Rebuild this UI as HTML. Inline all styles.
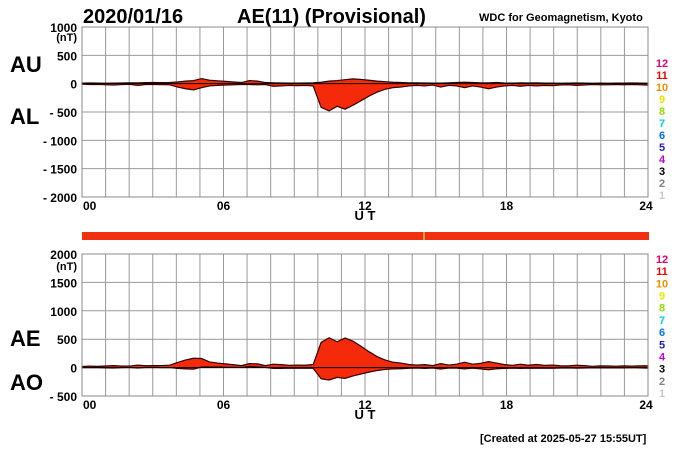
<!DOCTYPE html>
<html><head><meta charset="utf-8"><style>
body{margin:0;background:#fff;}
svg{display:block;font-family:"Liberation Sans",Arial,sans-serif;font-weight:bold;}
</style></head><body>
<svg id="chart" width="700" height="450">
<text x="83" y="23" font-size="20">2020/01/16</text>
<text x="237" y="23" font-size="20">AE(11) (Provisional)</text>
<text x="479" y="21" font-size="11">WDC for Geomagnetism, Kyoto</text>
<text x="10" y="72" font-size="22">AU</text>
<text x="10" y="124" font-size="22">AL</text>
<text x="10" y="346" font-size="22">AE</text>
<text x="10" y="390" font-size="22">AO</text>
<rect x="82" y="232" width="567" height="8" fill="#f03010"/>
<rect x="423" y="232" width="2" height="8" fill="#f0a040"/>
<text x="480" y="442" font-size="11">[Created at 2025-05-27 15:55UT]</text>
<g id="g"></g>
</svg>
<script>
const hourTicks=["00","06","12","18","24"];
const topTicks=[1000,500,0,-500,-1000,-1500,-2000];
const botTicks=[2000,1500,1000,500,0,-500];
const au=[10,12,10,8,10,12,15,15,18,20,18,22,30,45,55,90,60,50,40,30,20,55,45,20,15,12,10,10,12,15,25,45,55,70,85,75,60,45,35,25,20,15,15,12,10,10,15,20,25,20,15,15,20,12,10,15,12,15,10,10,8,10,12,10,8,10,8,10,10,12,10,8];
const al=[-10,-15,-12,-20,-25,-15,-12,-30,-15,-15,-18,-20,-60,-90,-110,-70,-40,-30,-25,-20,-15,-15,-20,-15,-45,-40,-30,-35,-30,-40,-420,-480,-400,-450,-380,-300,-220,-150,-100,-70,-60,-40,-30,-40,-25,-60,-30,-40,-70,-40,-60,-90,-60,-40,-30,-45,-30,-40,-30,-35,-25,-20,-30,-25,-15,-20,-20,-15,-20,-15,-20,-25];
const levels=["12","11","10","9","8","7","6","5","4","3","2","1"];
const levelColors=["#e8006a","#f00000","#f09000","#e8e800","#90e000","#00d0e0","#0070ff","#2020c0","#c000e0","#000","#808080","#c8c8c8"];
const NS="http://www.w3.org/2000/svg";
const g=document.getElementById('g');
function mk(t,a,txt){const e=document.createElementNS(NS,t);for(const k in a)e.setAttribute(k,a[k]);if(txt!==undefined)e.textContent=txt;g.appendChild(e);return e;}
const X0=82,X1=648;
const xs=h=>X0+(X1-X0)*h/24;
function panel(top,bot,vmax,vmin,ticks,name,series,unitY){
  const ys=v=>top+(vmax-v)*(bot-top)/(vmax-vmin);
  for(let h=0;h<=24;h++){const l=mk('line',{x1:xs(h),x2:xs(h),y1:top,y2:bot,stroke:'#999','stroke-width':1});
    
    }
  for(let v=vmax;v>=vmin;v-=500){const l=mk('line',{x1:X0,x2:X1,y1:ys(v),y2:ys(v),stroke:'#999','stroke-width':1});
    
    }
  ticks.forEach(v=>{const t=mk('text',{x:77,y:ys(v)+5,'font-size':12,'text-anchor':'end'},v<0?'- '+(-v):String(v));
    
    });
  const u=mk('text',{x:77,y:unitY,'font-size':11,'text-anchor':'end'},'(nT)');
  
  
  hourTicks.forEach((s,i)=>{const t=mk('text',{x:xs(i*6)+(i==0?1:i==4?-2:0),y:bot+13,'font-size':12,'text-anchor':i==0?'start':'middle'},s);
    
    });
  const ut=mk('text',{x:365,y:bot+23,'font-size':13,'text-anchor':'middle'},'U T');
  
  
  const [hi,lo]=series;const n=hi.length;
  let pts=[];for(let i=0;i<n;i++)pts.push(xs(i*24/(n-1))+','+ys(hi[i]));
  for(let i=n-1;i>=0;i--)pts.push(xs(i*24/(n-1))+','+ys(lo[i]));
  const p=mk('polygon',{points:pts.join(' '),fill:'#f52a0a',stroke:'#300','stroke-width':1.2});
  
  
  const z=mk('line',{x1:X0,x2:X1,y1:ys(0),y2:ys(0),stroke:'#000','stroke-width':1});
  
  
  const r=mk('rect',{x:X0,y:top,width:X1-X0,height:bot-top,fill:'none',stroke:'#888'});
  
  
}
panel(27,197,1000,-2000,topTicks,'au-al-panel',[au,al],41);
const ae=au.map((v,i)=>v-al[i]);
const ao=au.map((v,i)=>(v+al[i])/2);
panel(254,396,2000,-500,botTicks,'ae-ao-panel',[ae,ao],270);
[[62,194],[258,392]].forEach(([a,b],k)=>{
  levels.forEach((s,i)=>{const t=mk('text',{x:662,y:a+5+i*(b-a)/11,'font-size':11,fill:levelColors[i],'text-anchor':'middle'},s);
    
    });
});
</script>
</body></html>
